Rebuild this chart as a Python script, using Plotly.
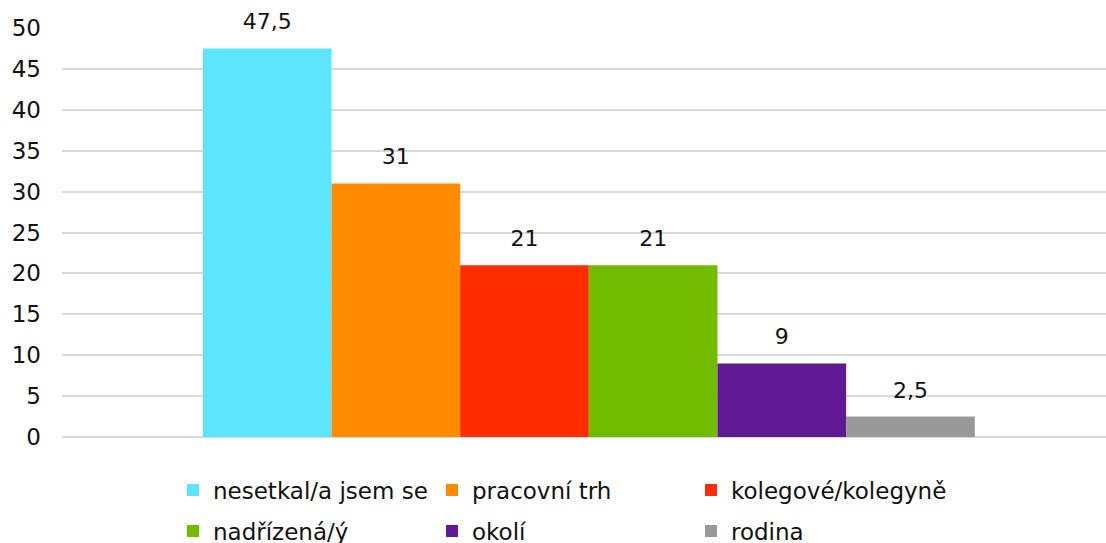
import plotly.graph_objects as go

series = ["nesetkal/a jsem se", "pracovní trh", "kolegové/kolegyně",
          "nadřízená/ý", "okolí", "rodina"]
values = [47.5, 31, 21, 21, 9, 2.5]
labels = ["47,5", "31", "21", "21", "9", "2,5"]
colors = ["#5ce6fe", "#ff8c00", "#ff2d00", "#72bb00", "#5e1993", "#999999"]
category = [""]

FONT = "DejaVu Sans"

fig = go.Figure()
for i, (name, v, c) in enumerate(zip(series, values, colors)):
    fig.add_trace(go.Bar(
        x=category, y=[v], name=name, marker=dict(color=c, line=dict(width=0)),
        legend="legend" if i < 3 else "legend2", offsetgroup=str(i),
        hoverinfo="skip",
    ))
for i, (v, lab) in enumerate(zip(values, labels)):
    fig.add_trace(go.Scatter(
        x=category, y=[v], mode="markers+text", text=[lab],
        textposition="top center", offsetgroup=str(i),
        marker=dict(size=20, opacity=0), showlegend=False, hoverinfo="skip",
        cliponaxis=False,
        textfont=dict(family=FONT, size=22, color="#111111"),
    ))

legend_common = dict(orientation="h", xref="container", yref="container",
                     xanchor="left", yanchor="middle",
                     entrywidth=214, entrywidthmode="pixels", traceorder="normal",
                     font=dict(family=FONT, size=23, color="#111111"),
                     itemwidth=30, bgcolor="rgba(0,0,0,0)")

fig.update_layout(
    width=1106, height=543,
    margin=dict(l=62, r=0, t=28, b=106),
    barmode="group", bargap=0.2, bargroupgap=0,
    scattermode="group", scattergap=0.2,
    plot_bgcolor="white", paper_bgcolor="white",
    font=dict(family=FONT, size=23, color="#111111"),
    xaxis=dict(range=[-0.546, 0.536], showticklabels=False, showgrid=False,
               zeroline=False, showline=False),
    yaxis=dict(range=[0, 50], dtick=5, showgrid=True, gridcolor="#d9d9d9",
               gridwidth=2, zeroline=True, zerolinecolor="#d9d9d9", zerolinewidth=2,
               tickfont=dict(family=FONT, size=23, color="#111111"),
               ticks="", ticklabelstandoff=20),
    legend=dict(x=173/1106, y=1 - 490/543, **legend_common),
    legend2=dict(x=173/1106, y=1 - 531/543, **legend_common),
    showlegend=True,
)

fig.write_html("out.html", config={"displayModeBar": False},
               post_script="document.body.style.margin='0';")
